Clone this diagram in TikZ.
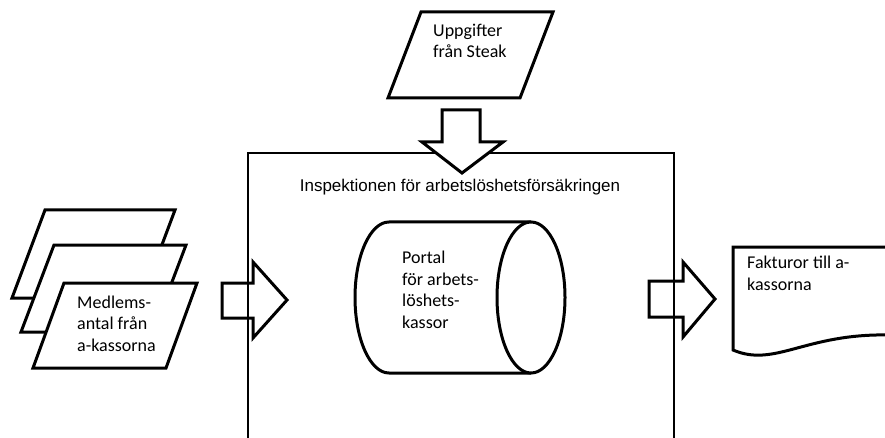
\documentclass[tikz,border=0pt]{standalone}
\usepackage{fontspec}
\setmainfont{Carlito}
\newfontfamily\arialf{Liberation Sans}
\begin{document}
\begin{tikzpicture}[x=1pt,y=-1pt,
  shapeline/.style={draw=black,line width=3pt,line join=miter,fill=white},
  boxline/.style={draw=black,line width=1.5pt},
  shapetext/.style={inner sep=0pt,align=left,anchor=base west,font=\fontsize{18}{21.5}\selectfont},
  titletext/.style={inner sep=0pt,anchor=base,font=\arialf\fontsize{17}{20}\selectfont}]
\useasboundingbox (0,0) rectangle (885,438);
\clip (0,0) rectangle (885,438);
% main box
\draw[boxline] (248,448) -- (248,153) -- (674,153) -- (674,448);
\node[titletext] (title) at (460,192) {Inspektionen för arbetslöshetsförsäkringen};
% top parallelogram
\draw[shapeline] (421,12) -- (553,12) -- (520,98) -- (388,98) -- cycle;
\node[shapetext] (steak) at (433,58) {Uppgifter\\från Steak};
% down arrow
\draw[shapeline] (442,110) -- (480,110) -- (480,142) -- (503,142) -- (462,173) -- (422,142) -- (442,142) -- cycle;
% stacked parallelograms
\draw[shapeline] (45,210) -- (175,210) -- (142,298) -- (12,298) -- cycle;
\draw[shapeline] (54,245) -- (186,245) -- (153,332) -- (21,332) -- cycle;
\draw[shapeline] (64,283) -- (197,283) -- (166,368) -- (33,368) -- cycle;
\node[shapetext] (medl) at (77,351) {Medlems-\\antal från\\a-kassorna};
% left block arrow
\draw[shapeline,fill=none] (222,283) -- (253,283) -- (253,262) -- (287,300) -- (253,338) -- (253,318) -- (222,318) -- cycle;
% cylinder
\draw[shapeline] (531,222) -- (389,222) arc[start angle=90,end angle=270,x radius=34pt,y radius=75.5pt] -- (531,373);
\draw[shapeline] (531,297.5) ellipse[x radius=34pt,y radius=75.5pt];
\node[shapetext] (portal) at (402,328) {Portal\\för arbets-\\löshets-\\kassor};
% right block arrow
\draw[shapeline,fill=none] (649,281) -- (683,281) -- (683,262) -- (715,299) -- (683,337) -- (683,317) -- (649,317) -- cycle;
% document
\draw[shapeline] (890,336) -- (890,247) -- (733,247) -- (733,350) .. controls (775,368) and (805,333) .. (890,335);
\node[shapetext] (fakt) at (747,290) {Fakturor till a-\\kassorna};
\end{tikzpicture}
\end{document}
